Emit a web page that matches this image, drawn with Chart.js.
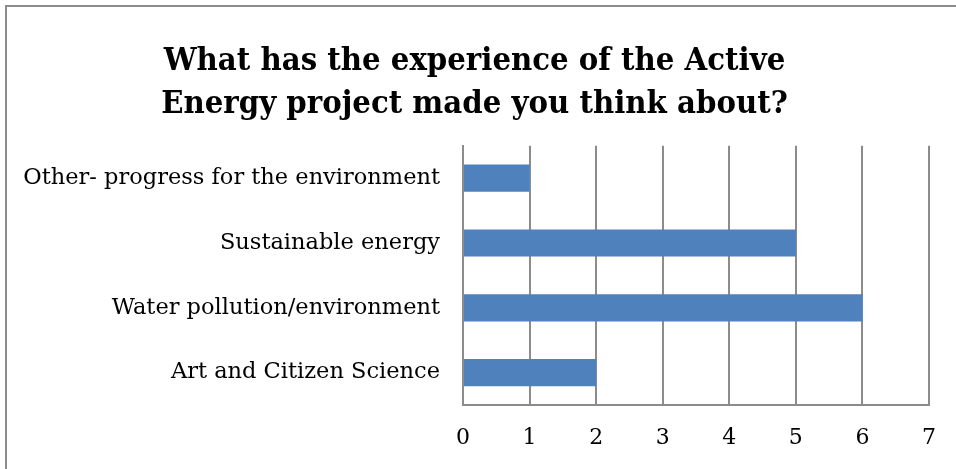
<!DOCTYPE html>
<html>
<head>
<meta charset="utf-8">
<script src="https://cdn.jsdelivr.net/npm/chart.js@4"></script>
<style>
  html, body { margin: 0; padding: 0; background: #fff; overflow: hidden; }
  #wrap { position: absolute; left: 0; top: 0; width: 956px; height: 469px; }
  #frame { position: absolute; left: 5px; top: 5px; width: 1000px; height: 600px;
           border: 2px solid #8c8c8c; box-sizing: border-box; pointer-events: none; }
</style>
</head>
<body>
<div id="wrap">
  <canvas id="chart" width="956" height="469"></canvas>
  <div id="frame"></div>
</div>
<script>
const titleLines = ["What has the experience of the Active", "Energy project made you think about?"];
const categories = ["Other- progress for the environment", "Sustainable energy", "Water pollution/environment", "Art and Citizen Science"];
const counts = [1, 5, 6, 2];
const xTicks = [0, 1, 2, 3, 4, 5, 6, 7];

const serif = "'DejaVu Serif', serif";
const titleFont = "'DejaVu Serif Condensed', 'DejaVu Serif', serif";

new Chart(document.getElementById("chart"), {
    type: 'bar',
    data: {
        labels: categories,
        datasets: [{
            data: counts,
            backgroundColor: '#4f81bd',
            borderWidth: 0,
            barPercentage: 0.42,
            categoryPercentage: 1
        }]
    },
    options: {
        indexAxis: 'y',
        responsive: false,
        animation: false,
        // left padding stays small so the long label isn't clipped
        layout: { padding: { left: 20, right: 27, top: 40, bottom: 0 } },
        plugins: {
            legend: { display: false },
            tooltip: { enabled: false },
            title: {
                display: true,
                text: titleLines,
                color: '#000',
                font: { family: titleFont, size: 32.5, weight: 'bold', lineHeight: 1.32 },
                padding: { top: 0, bottom: 20 }
            }
        },
        scales: {
            x: {
                min: 0,
                max: 7,
                position: 'bottom',
                afterBuildTicks: (scale) => { scale.ticks = xTicks.map(v => ({ value: v })); },
                grid: { color: '#8c8c8c', lineWidth: 2, drawTicks: false },
                border: { display: true, color: '#8c8c8c', width: 2 },
                ticks: { color: '#000', padding: 20, font: { family: serif, size: 22 } },
                afterFit: (scale) => { scale.height = 64; }
            },
            y: {
                grid: { display: false },
                border: { display: true, color: '#8c8c8c', width: 2 },
                ticks: { color: '#000', padding: 15, font: { family: serif, size: 22.5 } },
                afterFit: (scale) => { scale.width = 443; }
            }
        }
    }
});
</script>
</body>
</html>
